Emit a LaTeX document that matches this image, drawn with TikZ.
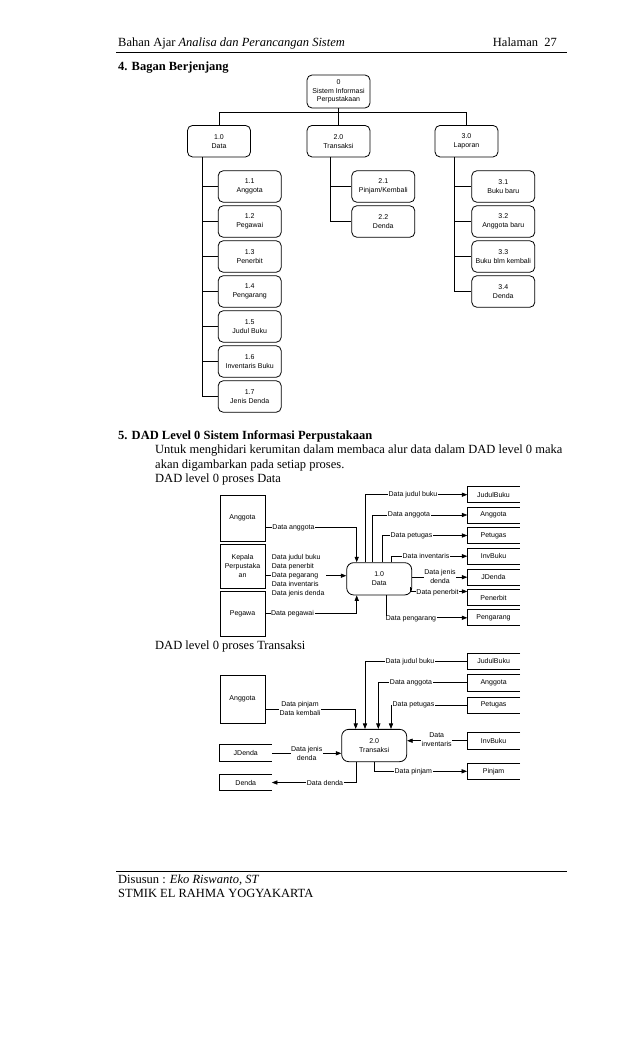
\documentclass[tikz,border=0pt]{standalone}
\usepackage{fontspec}
\setmainfont{Liberation Serif}
\newfontfamily\diagsans{Liberation Sans}
\usetikzlibrary{arrows.meta,calc}
\newcommand{\myBody}{\fontsize{12.5}{14.5}\selectfont}
\newcommand{\myDiag}{\diagsans\fontsize{7}{8.8}\selectfont}
\begin{document}
\begin{tikzpicture}[x=1pt,y=-1pt,
  txt/.style={inner sep=0pt, font=\myBody},
  rbox/.style={draw, rounded corners=5pt, line width=0.8pt, minimum width=63pt, minimum height=31.5pt, align=center, font=\myDiag, inner sep=1pt},
  ent/.style={draw, line width=0.8pt, minimum width=45pt, align=center, font=\myDiag, inner sep=1pt},
  proc/.style={draw, rounded corners=7pt, line width=0.8pt, minimum width=65pt, minimum height=32.3pt, align=center, font=\myDiag, inner sep=1pt},
  store/.style={minimum width=52pt, minimum height=15.7pt, font=\myDiag, inner sep=1pt},
  storeline/.style={line width=0.8pt},
  tree/.style={line width=0.8pt},
  flow/.style={line width=0.7pt, -{Triangle[length=5.5pt,width=4.2pt]}},
  plain/.style={line width=0.7pt},
  lbl/.style={fill=white, inner sep=0.6pt, font=\myDiag, align=center},
]
\useasboundingbox (0,0) rectangle (638,1051);

% ---------- header ----------
\node[txt, anchor=base west] (hd1) at (118,46.5) {Bahan Ajar \textit{Analisa dan Perancangan Sistem}};
\node[txt, anchor=base east] (hd2) at (557,46.5) {Halaman\ \ 27};
\draw[line width=0.7pt] (116,52) -- (567,52);
\node[txt, anchor=base west, font=\myBody\bfseries] (sec4) at (118,71) {4. Bagan Berjenjang};

% ---------- hierarchy chart ----------
\node[rbox, minimum height=33pt, font=\diagsans\fontsize{7}{8.5}\selectfont] (n0) at (338.5,91.5) {0\\Sistem Informasi\\Perpustakaan};
\node[rbox] (n1) at (219,141.2) {1.0\\Data};
\node[rbox] (n2) at (338.5,141.2) {2.0\\Transaksi};
\node[rbox] (n3) at (466.5,141.2) {3.0\\Laporan};

\node[rbox] (c11) at (249.7,186.5) {1.1\\Anggota};
\node[rbox] (c12) at (249.7,221.5) {1.2\\Pegawai};
\node[rbox] (c13) at (249.7,256.5) {1.3\\Penerbit};
\node[rbox] (c14) at (249.7,291.5) {1.4\\Pengarang};
\node[rbox] (c15) at (249.7,326.5) {1.5\\Judul Buku};
\node[rbox] (c16) at (249.7,361.5) {1.6\\Inventaris Buku};
\node[rbox] (c17) at (249.7,396.5) {1.7\\Jenis Denda};

\node[rbox] (c21) at (383.3,186.5) {2.1\\Pinjam/Kembali};
\node[rbox] (c22) at (383.3,221.5) {2.2\\Denda};

\node[rbox] (c31) at (503.3,186.5) {3.1\\Buku baru};
\node[rbox] (c32) at (503.3,221.5) {3.2\\Anggota baru};
\node[rbox] (c33) at (503.3,256.5) {3.3\\Buku blm kembali};
\node[rbox] (c34) at (503.3,291.5) {3.4\\Denda};

\coordinate (bus) at (338.5,112.7);
\coordinate (sp1) at (202.3,0);
\coordinate (sp2) at (330,0);
\coordinate (sp3) at (454,0);
\draw[tree] (n0.south) -- (bus);
\draw[tree] (n1.north) |- (bus) -| (n3.north);
\draw[tree] (bus) -- (n2.north);
\draw[tree] (sp1 |- n1.south) |- (c17.west);
\foreach \c in {c11,c12,c13,c14,c15,c16} \draw[tree] (sp1 |- \c.west) -- (\c.west);
\draw[tree] (sp2 |- n2.south) |- (c22.west);
\draw[tree] (sp2 |- c21.west) -- (c21.west);
\draw[tree] (sp3 |- n3.south) |- (c34.west);
\foreach \c in {c31,c32,c33} \draw[tree] (sp3 |- \c.west) -- (\c.west);

% ---------- section 5 text ----------
\node[txt, anchor=base west, font=\myBody\bfseries] (sec5) at (118,439) {5. DAD Level 0 Sistem Informasi Perpustakaan};
\node[txt, anchor=base west] (p1) at (155,453.5) {Untuk menghidari kerumitan dalam membaca alur data dalam DAD level 0 maka};
\node[txt, anchor=base west] (p2) at (155,468) {akan digambarkan pada setiap proses.};
\node[txt, anchor=base west] (p3) at (155,482.5) {DAD level 0 proses Data};

% ---------- DFD 1 ----------
\node[ent, minimum height=46.7pt] (A1) at (242.5,518.3) {Anggota};
\node[ent, minimum height=44.3pt] (K1) at (242.5,566.2) {Kepala\\Perpustaka\\an};
\node[ent, minimum height=44.3pt] (P1) at (242.5,613.8) {Pegawa};
\node[proc] (D1) at (379.2,578.8) {1.0\\Data};

\node[store] (sJB) at (493.5,494.7) {JudulBuku};
\node[store] (sAN) at (493.5,515) {Anggota};
\node[store] (sPT) at (493.5,535.5) {Petugas};
\node[store] (sIB) at (493.5,556.2) {InvBuku};
\node[store] (sJD) at (493.5,577.2) {JDenda};
\node[store] (sPN) at (493.5,597.5) {Penerbit};
\node[store] (sPG) at (493.5,617.8) {Pengarang};
\foreach \s in {sJB,sAN,sPT,sIB,sJD,sPN,sPG}
  \draw[storeline] (\s.north east) -- (\s.north west) -- (\s.south west) -- (\s.south east);

\coordinate (xo1) at (365.7,0);
\coordinate (xo2) at (372.7,0);
\coordinate (xo3) at (382.7,0);
\coordinate (xo4) at (391.7,0);
\coordinate (xo7) at (386,0);
\coordinate (xi1) at (356.7,0);

\draw[flow] (D1.north -| xo1) |- (sJB.west);
\draw[flow] (D1.north -| xo2) |- (sAN.west);
\draw[flow] (D1.north -| xo3) |- (sPT.west);
\draw[flow] (D1.north -| xo4) |- (sIB.west);
\draw[flow] (D1.east |- sJD.west) -- (sJD.west);
\draw[flow] ($(D1.south east)+(-1.7,-8.5)$) |- ($(sPN.north west)+(0,2)$);
\draw[flow] (D1.south -| xo7) |- (sPG.west);

\node[lbl] (l1) at (413,494.7) {Data judul buku};
\node[lbl] (l2) at (409,515) {Data anggota};
\node[lbl] (l3) at (411.5,535.5) {Data petugas};
\node[lbl] (l4) at (426,556.2) {Data inventaris};
\node[lbl] (l5) at (440,576.5) {Data jenis\\denda};
\node[lbl] (l6) at (437.5,592.3) {Data penerbit};
\node[lbl] (l7) at (411,619.3) {Data pengarang};

\draw[flow] ($(A1.east)+(0,9.4)$) -| (D1.north -| xi1);
\draw[flow] ($(K1.east)+(0,9.5)$) -- (D1.west |- {$(K1.east)+(0,9.5)$});
\draw[flow] ($(P1.east)+(0,-0.5)$) -| (D1.south -| xi1);
\node[lbl] (l8) at (293.5,527.7) {Data anggota};
\node[lbl, anchor=west, align=left, inner sep=1.2pt] (l9) at (270.5,575.7) {Data judul buku\\Data penerbit\\Data pegarang\\Data inventaris\\Data jenis denda};
\node[lbl] (l10) at (292.5,613.3) {Data pegawai};

\node[txt, anchor=base west] (p4) at (155,649) {DAD level 0 proses Transaksi};

% ---------- DFD 2 ----------
\node[ent, minimum height=48.3pt] (A2) at (242.5,699.2) {Anggota};
\node[store, minimum width=51.7pt, minimum height=16.7pt] (sJD2) at (245.8,753.3) {JDenda};
\node[store, minimum width=51.7pt, minimum height=15.5pt] (sDN2) at (245.8,782.5) {Denda};
\foreach \s in {sJD2,sDN2}
  \draw[storeline] (\s.north east) -- (\s.north west) -- (\s.south west) -- (\s.south east);
\node[proc] (T2) at (374.2,745.5) {2.0\\Transaksi};

\node[store, minimum width=52.7pt, minimum height=16pt] (tJB) at (493.6,661.3) {JudulBuku};
\node[store, minimum width=52.7pt, minimum height=16.4pt] (tAN) at (493.6,682.5) {Anggota};
\node[store, minimum width=52.7pt, minimum height=16pt] (tPT) at (493.6,705.3) {Petugas};
\node[store, minimum width=52.7pt, minimum height=16.7pt] (tIB) at (493.6,740.7) {InvBuku};
\node[store, minimum width=52.7pt, minimum height=16pt] (tPJ) at (493.6,771.3) {Pinjam};
\foreach \s in {tJB,tAN,tPT,tIB,tPJ}
  \draw[storeline] (\s.north east) -- (\s.north west) -- (\s.south west) -- (\s.south east);

\coordinate (xt1) at (365,0);
\coordinate (xt2) at (378.3,0);
\coordinate (xt3) at (391,0);
\coordinate (xt4) at (355.7,0);
\coordinate (xt7) at (374.3,0);
\coordinate (xt8) at (356.7,0);

\draw[flow] (tJB.west) -| (T2.north -| xt1);
\draw[flow] (tAN.west) -| (T2.north -| xt2);
\draw[flow] (tPT.west) -| (T2.north -| xt3);
\draw[flow] ($(A2.east)+(0,10.1)$) -| (T2.north -| xt4);
\draw[flow] (tIB.west) -- (T2.east |- tIB.west);
\draw[flow] (sJD2.east) -- (T2.west |- sJD2.east);
\draw[flow] (T2.south -| xt7) |- (tPJ.west);
\draw[flow] (T2.south -| xt8) |- (sDN2.east);

\node[lbl] (m1) at (410,661.3) {Data judul buku};
\node[lbl] (m2) at (411,682.5) {Data anggota};
\node[lbl] (m3) at (413.5,705.3) {Data petugas};
\node[lbl] (m4) at (300,708.5) {Data pinjam\\Data kembali};
\node[lbl] (m5) at (436.7,740) {Data\\inventaris};
\node[lbl] (m6) at (306.7,753.3) {Data jenis\\denda};
\node[lbl] (m7) at (413.3,771.3) {Data pinjam};
\node[lbl] (m8) at (325,782.5) {Data denda};

% ---------- footer ----------
\draw[line width=0.7pt] (116,871) -- (567,871);
\node[txt, anchor=base west] (f1) at (118,883) {Disusun : \textit{Eko Riswanto, ST}};
\node[txt, anchor=base west] (f2) at (118,897.5) {STMIK EL RAHMA YOGYAKARTA};
\end{tikzpicture}
\end{document}
